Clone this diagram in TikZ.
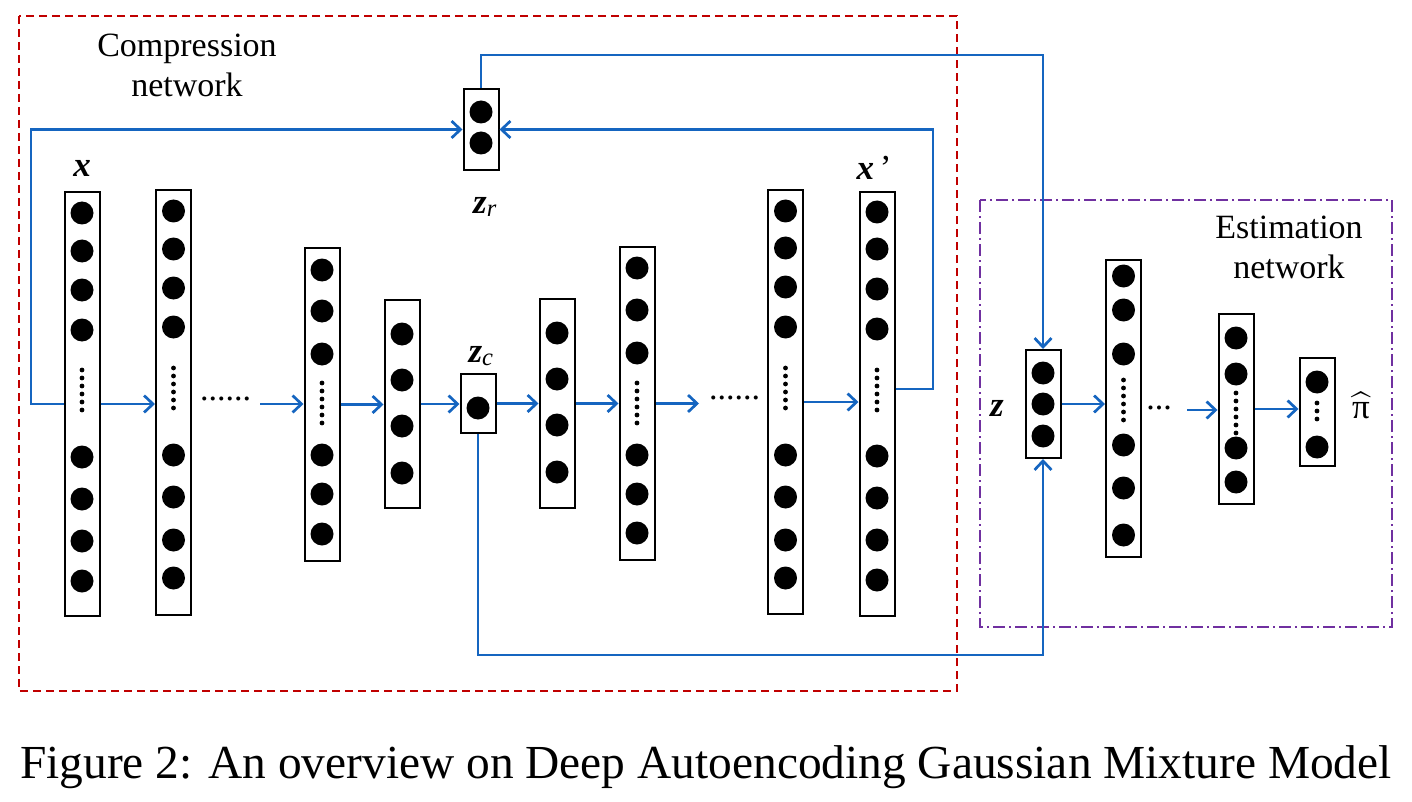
\documentclass[tikz,border=0pt]{standalone}
\usepackage{amsmath}
\usepackage{fontspec}
\setmainfont{Liberation Serif}
\DeclareFontShape{OMX}{cmex}{m}{n}{<->cmex10}{}
\usetikzlibrary{arrows.meta, positioning}
\definecolor{LinkBlue}{HTML}{1565C0}
\definecolor{FrameRed}{HTML}{C00000}
\definecolor{FramePurple}{HTML}{7030A0}

\tikzset{
  layer/.style={draw, fill=white, line width=2pt, minimum width=35pt, inner sep=0pt},
  flow/.style={draw=LinkBlue, line width=2.7pt, -{Straight Barb[length=9pt,width=17pt]}},
  netlabel/.style={font=\fontsize{34}{40}\selectfont, align=center, inner sep=0pt},
  varlabel/.style={font=\fontsize{35}{40}\selectfont, inner sep=0pt}
}

% filled units and the vertical ellipsis inside a layer
\newcommand{\unitsat}[2]{\foreach \uy in {#2} \fill (#1,\uy) circle (11.5pt);}
\newcommand{\skipdots}[4]{\foreach \uy in {#2,#3,...,#4} \fill (#1,\uy) circle (2.4pt);}

\begin{document}
\begin{tikzpicture}[x=1pt, y=-1pt]
    \useasboundingbox (0,0) rectangle (1412,802);

    % network frames
    \draw[FrameRed, line width=1.5pt, dash pattern=on 8pt off 5pt] (19,16) rectangle (957,691);
    \draw[FramePurple, line width=1.5pt, dash pattern=on 12pt off 4pt on 2pt off 4pt] (980,200) rectangle (1392,627);

    \node[netlabel] (cname) at (187,65) {Compression\\network};
    \node[netlabel] (ename) at (1289,247) {Estimation\\network};

    % layers
    \foreach \n/\x/\y/\h in {c1/82/404/424, c2/173.5/402.5/425, c3/322/404.5/313, c4/402/404/208,
                             zc/478/403.5/59, c6/557/403.5/209, c7/637/403.5/313, c8/785.5/402/424,
                             xp/877/404/424, zr/481/129.5/81, z/1043/404/108,
                             e1/1123.5/408.5/297, e2/1236/409/190, e3/1317/412/108}
        \node[layer, minimum height=\h pt] (\n) at (\x,\y) {};

    \unitsat{82}{213,251,290,330,457,499,541,581}      \skipdots{82}{370}{378}{410}
    \unitsat{173.5}{211,249,288,327,455,497,540,578}   \skipdots{173.5}{368}{376}{408}
    \unitsat{322}{270,311,354,455,494,534}             \skipdots{322}{383}{391}{423}
    \unitsat{402}{334,380,426,473}
    \unitsat{478}{408}
    \unitsat{557}{333,379,425,472}
    \unitsat{637}{268,310,353,455,494,533}             \skipdots{637}{383}{391}{423}
    \unitsat{785.5}{211,248,287,327,455,497,540,578}   \skipdots{785.5}{368}{376}{408}
    \unitsat{877}{212,249,289,329,456,498,540,580}     \skipdots{877}{370}{378}{410}
    \unitsat{481}{112,143}
    \unitsat{1043}{373,404,436}
    \unitsat{1123.5}{276,310,354,445,488,535}          \skipdots{1123.5}{380}{388}{420}
    \unitsat{1236}{338,374,448,482}                    \skipdots{1236}{393}{401}{433}
    \unitsat{1317}{382,447}                            \skipdots{1317}{403}{411}{419}

    % variable names
    \node[varlabel] (xlab) at (82,168) {\textbf{\textit{x}}};
    \node[varlabel] (xplab) at (874,168) {\textbf{\textit{x}}\,’};
    \node[varlabel] (zrlab) at (485,207) {\textbf{\textit{z}}\textsubscript{\textit{r}}};
    \node[varlabel] (zclab) at (481,356) {\textbf{\textit{z}}\textsubscript{\textit{c}}};
    \node[varlabel] (zlab) at (997,408) {\textbf{\textit{z}}};
    \node[varlabel] (pihat) at (1361,406) {$\widehat{\mbox{π}}$};

    \node[netlabel] (gap1) at (225.5,399) {......};
    \node[netlabel] (gap2) at (734.5,398) {......};
    \node[netlabel] (gap3) at (1159,408) {...};

    % forward pass
    \coordinate (gapin) at (260,404);
    \coordinate (gapout) at (699,403.5);
    \coordinate (gapest) at (1187,410);
    \draw[flow] (c1.east) -- (c1.east -| c2.west);
    \draw[flow] (gapin) -- (gapin -| c3.west);
    \draw[flow] (c3.east) -- (c3.east -| c4.west);
    \draw[flow] (c4.east) -- (c4.east -| zc.west);
    \draw[flow] (zc.east) -- (zc.east -| c6.west);
    \draw[flow] (c6.east) -- (c6.east -| c7.west);
    \draw[flow] (c7.east) -- (gapout);
    \draw[flow] (c8.east) -- (c8.east -| xp.west);
    \draw[flow] (z.east) -- (z.east -| e1.west);
    \draw[flow] (gapest) -- (gapest -| e2.west);
    \draw[flow] (e2.east) -- (e2.east -| e3.west);

    % reconstruction features and the paths into z
    \coordinate (inturn) at (31,129.5);
    \coordinate (backturn) at (933,129.5);
    \coordinate (topturn) at (1043,55);
    \coordinate (botturn) at (1043,655);
    \draw[flow] (c1.west) -| (inturn) -- (zr.west);
    \draw[flow] ([yshift=15pt]xp.east) -| (backturn) -- (zr.east);
    \draw[flow] (zr.north) |- (topturn) -- (z.north);
    \draw[flow] (zc.south) |- (botturn) -- (z.south);

    \node[anchor=base, font=\fontsize{47.4}{52}\selectfont, inner sep=0pt] (caption) at (706,778)
        {Figure 2: An overview on Deep Autoencoding Gaussian Mixture Model};
\end{tikzpicture}
\end{document}
